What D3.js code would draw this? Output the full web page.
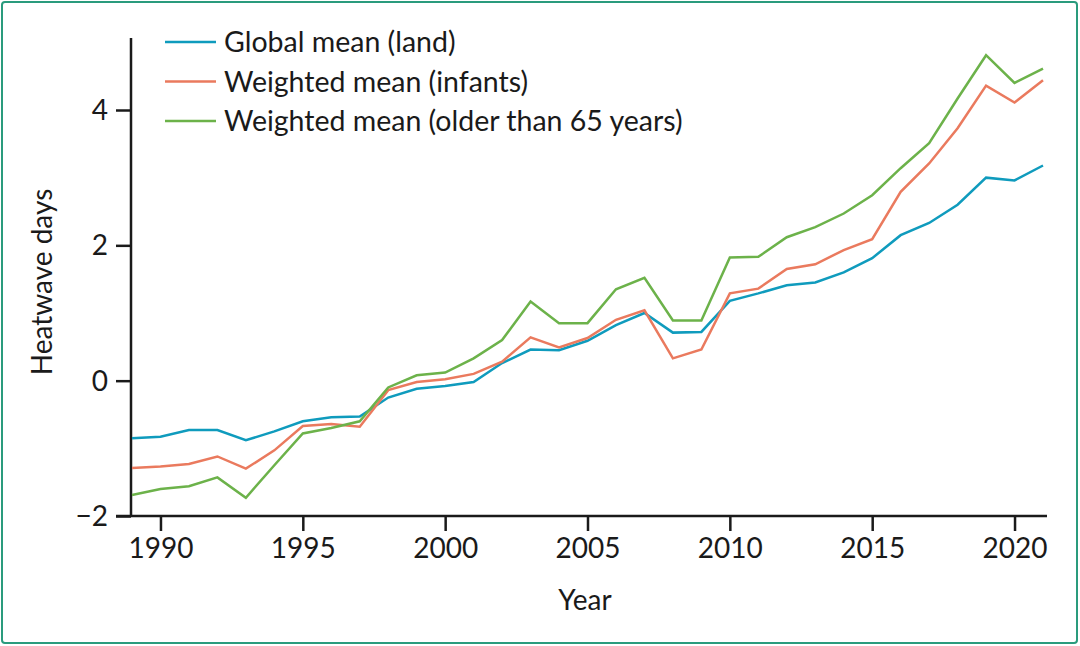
<!DOCTYPE html>
<html>
<head>
<meta charset="utf-8">
<script src="https://cdn.jsdelivr.net/npm/d3@7"></script>
<style>
  html, body { margin: 0; padding: 0; background: #fff; }
  text { font-family: Lato, "Open Sans", sans-serif; fill: #1a1a1a; }
</style>
</head>
<body>
<div id="chart"></div>
<script>
(function () {

    // Yıllar ve seriler
    const years = d3.range(1989, 2022);

    const globalMean = [-0.85, -0.83, -0.73, -0.73, -0.88, -0.75, -0.60, -0.54, -0.53, -0.25,
        -0.12, -0.08, -0.02, 0.26, 0.46, 0.45, 0.59, 0.82, 1.00, 0.71,
        0.72, 1.18, 1.29, 1.41, 1.45, 1.60, 1.81, 2.15, 2.33, 2.60,
        3.00, 2.96, 3.18];

    const infantsMean = [-1.29, -1.27, -1.23, -1.12, -1.30, -1.03, -0.67, -0.64, -0.68, -0.14,
        -0.02, 0.02, 0.10, 0.28, 0.64, 0.49, 0.63, 0.90, 1.04, 0.33,
        0.46, 1.29, 1.36, 1.65, 1.72, 1.93, 2.09, 2.79, 3.21, 3.73,
        4.36, 4.11, 4.44];

    const olderMean = [-1.69, -1.60, -1.56, -1.43, -1.73, -1.25, -0.78, -0.70, -0.60, -0.10,
        0.08, 0.12, 0.33, 0.60, 1.17, 0.85, 0.85, 1.35, 1.52, 0.89,
        0.89, 1.82, 1.83, 2.12, 2.27, 2.47, 2.74, 3.14, 3.51, 4.17,
        4.81, 4.40, 4.61];

    const seriesNames = ["Global mean (land)", "Weighted mean (infants)", "Weighted mean (older than 65 years)"];
    const seriesColors = ["#0f9bbd", "#ea7a5e", "#6cb24a"];
    const xTicks = [1990, 1995, 2000, 2005, 2010, 2015, 2020];
    const yTicks = [-2, 0, 2, 4];

    const width = 1080;
    const height = 646;

    const svg = d3.select("#chart")
        .append("svg")
        .attr("width", width)
        .attr("height", height);

    // Çerçeve
    svg.append("rect")
        .attr("x", 2)
        .attr("y", 2)
        .attr("width", width - 5)
        .attr("height", height - 5)
        .attr("rx", 3)
        .attr("fill", "none")
        .attr("stroke", "#2a9b7d")
        .attr("stroke-width", 2);

    const x = d3.scaleLinear().domain([1989, 2021]).range([132, 1043]);
    const y = d3.scaleLinear().domain([-2, 4]).range([516, 110]);

    const axisColor = "#1a1a1a";

    // Y ekseni
    const yAxis = svg.append("g")
        .attr("transform", "translate(131,0)")
        .call(d3.axisLeft(y).tickValues(yTicks).tickSize(15).tickPadding(8)
            .tickFormat(d => d < 0 ? "\u2212" + Math.abs(d) : d));
    yAxis.select(".domain").remove();
    yAxis.append("line")
        .attr("x1", 0).attr("x2", 0)
        .attr("y1", 38).attr("y2", 517)
        .attr("stroke", axisColor)
        .attr("stroke-width", 2.5);

    // X ekseni
    const xAxis = svg.append("g")
        .attr("transform", "translate(0,516)")
        .call(d3.axisBottom(x).tickValues(xTicks).tickSize(15).tickPadding(6)
            .tickFormat(d3.format("d")));
    xAxis.select(".domain").remove();
    xAxis.append("line")
        .attr("x1", 116).attr("x2", 1047)
        .attr("y1", 0).attr("y2", 0)
        .attr("stroke", axisColor)
        .attr("stroke-width", 2.5);

    svg.selectAll(".tick line")
        .attr("stroke", axisColor)
        .attr("stroke-width", 2.5);
    svg.selectAll(".tick text")
        .attr("font-size", 28)
        .attr("fill", "#1a1a1a");
    xAxis.selectAll(".tick text").attr("dy", "0.76em");
    yAxis.selectAll(".tick text").attr("dy", "0.34em");

    // Eksen başlıkları
    svg.append("text")
        .attr("x", 585)
        .attr("y", 610)
        .attr("text-anchor", "middle")
        .attr("font-size", 28)
        .text("Year");

    svg.append("text")
        .attr("transform", "translate(52,282) rotate(-90)")
        .attr("text-anchor", "middle")
        .attr("font-size", 28)
        .text("Heatwave days");

    // Çizgiler
    const allSeries = [globalMean, infantsMean, olderMean];
    const line = d3.line()
        .x((d, i) => x(years[i]))
        .y(d => y(d));

    allSeries.forEach((s, i) => {
        svg.append("path")
            .datum(s)
            .attr("fill", "none")
            .attr("stroke", seriesColors[i])
            .attr("stroke-width", 2.5)
            .attr("stroke-linejoin", "miter")
            .attr("d", line);
    });

    // Lejant
    const legend = svg.append("g");
    seriesNames.forEach((name, i) => {
        const ly = 42 + i * 39.5;
        legend.append("line")
            .attr("x1", 165).attr("x2", 216)
            .attr("y1", ly).attr("y2", ly)
            .attr("stroke", seriesColors[i])
            .attr("stroke-width", 2.5);
        legend.append("text")
            .attr("x", 224)
            .attr("y", ly)
            .attr("dy", "0.36em")
            .attr("font-size", 28.5)
            .text(name);
    });
})();
</script>
</body>
</html>
